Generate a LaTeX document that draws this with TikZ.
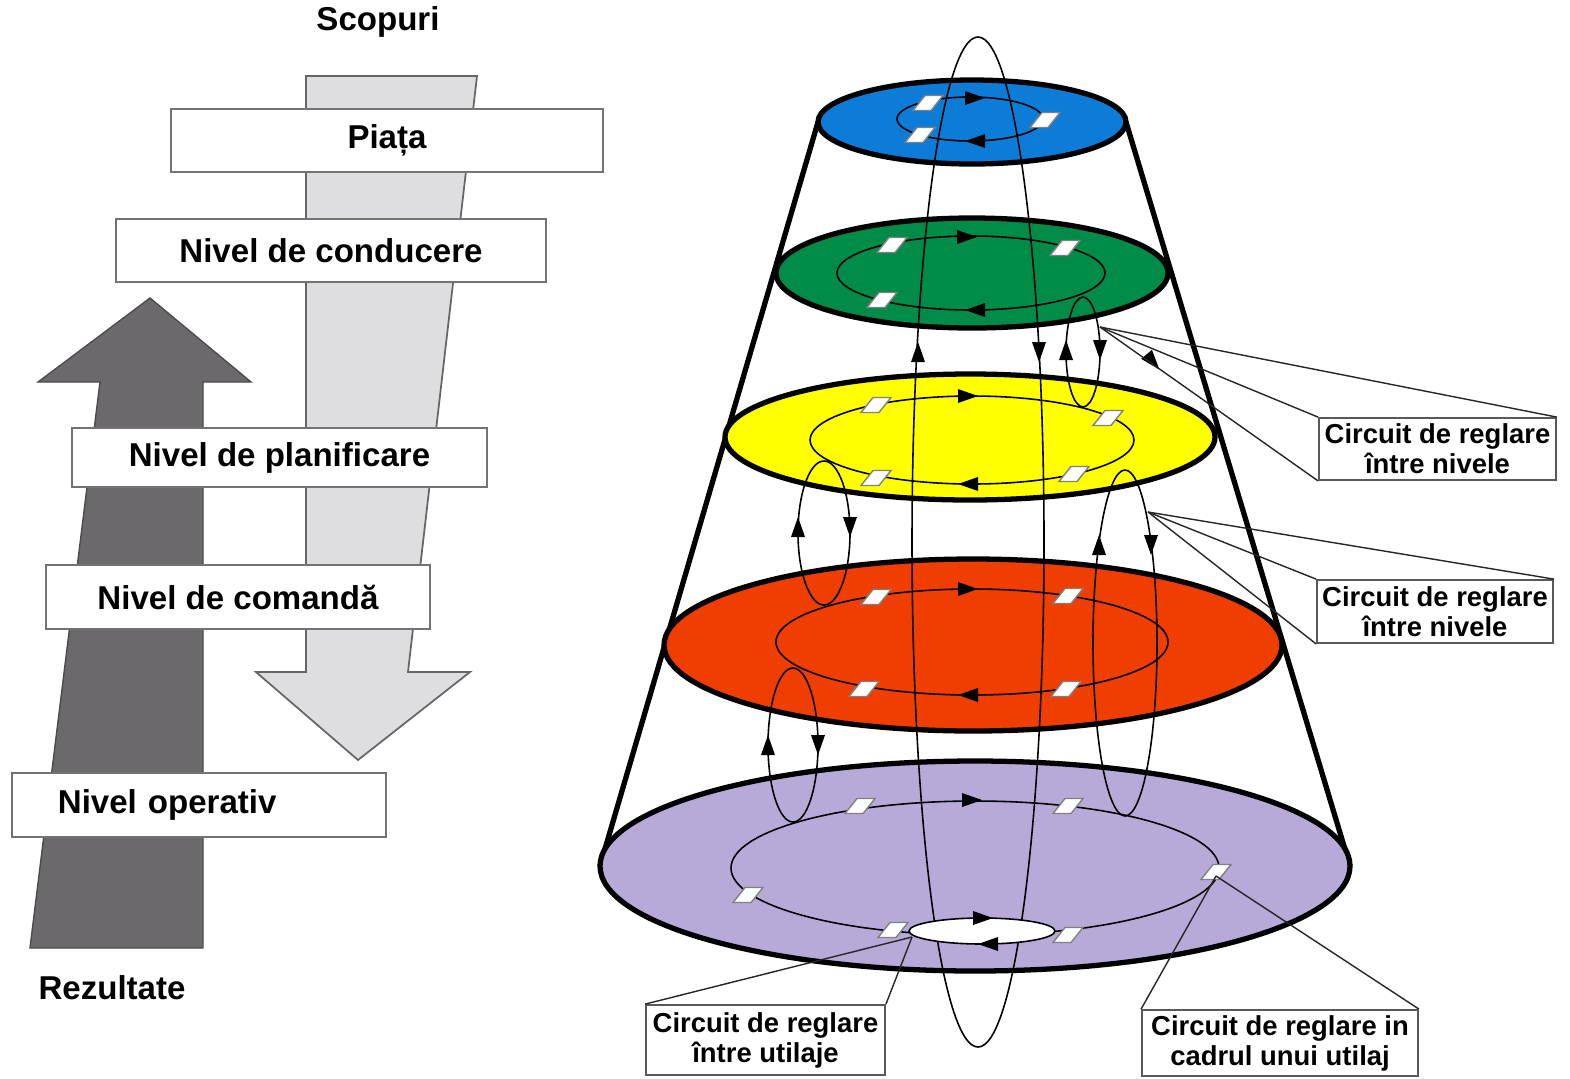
\documentclass[tikz,border=0pt]{standalone}
\usepackage{fontspec}
\setmainfont{Liberation Sans}
\usepackage{tikz}
\definecolor{albastru}{RGB}{12,124,214}
\definecolor{verde}{RGB}{0,140,72}
\definecolor{galben}{RGB}{255,255,0}
\definecolor{rosu}{RGB}{240,62,0}
\definecolor{lila}{RGB}{184,170,216}
\definecolor{gridesch}{RGB}{222,221,224}
\definecolor{griinch}{RGB}{108,105,108}
\tikzset{
    nivel/.style={
           draw=black!55, line width=0.7pt, fill=white,
           font=\fontsize{9.4}{11}\selectfont\bfseries,
           minimum height=0.63cm, inner sep=0pt},
    reglare/.style={
           draw=black!65, line width=0.5pt, fill=white, align=center,
           font=\fontsize{7.8}{8.5}\selectfont\bfseries, inner sep=0pt},
    disc/.style={draw=black, line width=1.5pt},
    bucla/.style={draw=black, line width=0.45pt},
    fir/.style={draw=black!85, line width=0.4pt},
    romb/.style={fill=white, draw=black!50, line width=0.4pt}
}
\newcommand{\romb}[2]{\filldraw[romb] (#1-15,#2+7.5) -- ++(18,0) -- ++(12,-15) -- ++(-18,0) -- cycle;}
\newcommand{\sageata}[3]{\fill[shift={(#1,#2)}, rotate=#3] (10,0) -- (-10,7) -- (-10,-7) -- cycle;}
\begin{document}
\begin{tikzpicture}[x=0.01cm, y=-0.01cm]
        \useasboundingbox (0,0) rectangle (1570,1078);
        \filldraw[fill=gridesch, draw=black!60, line width=0.5pt] (306,76) -- (477,76) -- (408,672) -- (470,672) -- (358,760) -- (256,672) -- (306,672) -- cycle;
        \filldraw[fill=griinch, draw=black!70, line width=0.4pt] (150,298) -- (251,382) -- (203,382) -- (203,948) -- (30,948) -- (100,382) -- (38,382) -- cycle;
        \node[font=\fontsize{9.4}{11}\selectfont\bfseries] (scopuri) at (378,22) {Scopuri};
        \node[font=\fontsize{9.4}{11}\selectfont\bfseries] (rezultate) at (112,988) {Rezultate};
        \node[nivel, minimum width=4.32cm] (piata) at (387,140.5) {Piața};
        \node[nivel, minimum width=4.30cm] (conducere) at (331,250.5) {Nivel de conducere};
        \node[nivel, minimum width=4.15cm, minimum height=0.59cm] (planificare) at (279.5,457.5) {Nivel de planificare};
        \node[nivel, minimum width=3.84cm, minimum height=0.64cm] (comanda) at (238,597) {Nivel de comandă};
        \node[nivel, minimum height=0.64cm, text width=2.82cm, align=left, inner xsep=0.46cm] (operativ) at (199,805) {Nivel operativ};

        \draw[disc] (818,122) -- (600,866);
        \draw[disc] (1126,122) -- (1350,866);
        \filldraw[disc, fill=lila] (975,866) ellipse [x radius=375, y radius=105];
        \filldraw[disc, fill=rosu] (973,645) ellipse [x radius=309, y radius=86];
        \filldraw[disc, fill=galben] (970,437) ellipse [x radius=245, y radius=63];
        \filldraw[disc, fill=verde] (972,273) ellipse [x radius=196, y radius=55];
        \filldraw[disc, fill=albastru] (972,122) ellipse [x radius=154, y radius=42];

        \draw[bucla] (970,119) ellipse [x radius=73, y radius=22];
        \draw[bucla] (971,273) ellipse [x radius=134, y radius=37];
        \draw[bucla] (972,440) ellipse [x radius=162, y radius=44];
        \draw[bucla] (972,642) ellipse [x radius=196, y radius=53];
        \draw[bucla] (975,868) ellipse [x radius=244, y radius=67];

        \draw[bucla] (1083,352) ellipse [x radius=17, y radius=55];
        \draw[bucla] (824,533) ellipse [x radius=26, y radius=72];
        \draw[bucla] (1125,643) ellipse [x radius=32, y radius=173];
        \draw[bucla] (793,745) ellipse [x radius=25, y radius=77];
        \draw[bucla] (978,542) ellipse [x radius=66, y radius=505];
        \filldraw[bucla, fill=white] (982,931) ellipse [x radius=73, y radius=13];

        \foreach \x/\y in {928/103, 1045/120, 920/135, 892/245, 1065/248, 882/300,
                876/405, 1108/418, 876/478, 1074/474, 876/597, 1068/596, 864/689, 1066/689,
                860/806, 1068/806, 1216/872, 748/895, 893/930, 1068/935}
            \romb{\x}{\y};

        \sageata{975}{98}{0} \sageata{975}{141}{180}
        \sageata{967}{237}{0} \sageata{975}{310}{180}
        \sageata{968}{396}{0} \sageata{968}{484}{180}
        \sageata{968}{589}{0} \sageata{968}{695}{180}
        \sageata{972}{800}{0}
        \sageata{983}{918}{0} \sageata{988}{944}{180}
        \sageata{918}{352}{90} \sageata{1039}{352}{-90}
        \sageata{1066}{350}{90} \sageata{1100}{350}{-90}
        \sageata{798}{527}{90} \sageata{850}{527}{-90}
        \sageata{1099}{545}{90} \sageata{1151}{545}{-90}
        \sageata{768}{745}{90} \sageata{818}{745}{-90}
        \sageata{1153}{362}{-50}

        \node[reglare, minimum width=2.37cm, minimum height=0.62cm] (c1) at (1437.5,449) {Circuit de reglare\\între nivele};
        \node[reglare, minimum width=2.36cm, minimum height=0.63cm] (c2) at (1435,611.5) {Circuit de reglare\\între nivele};
        \node[reglare, minimum width=2.39cm, minimum height=0.70cm] (c3) at (765.5,1040) {Circuit de reglare\\între utilaje};
        \node[reglare, minimum width=2.76cm, minimum height=0.66cm] (c4) at (1280,1043) {Circuit de reglare in\\cadrul unui utilaj};
        \coordinate (v1) at (1100,327);
        \coordinate (v2) at (1148,512);
        \coordinate (v3) at (912,937);
        \coordinate (v4) at (1216,876);
        \draw[fir] (v1) -- (c1.north east);
        \draw[fir] (v1) -- (c1.north west);
        \draw[fir] (v1) -- (c1.south west);
        \draw[fir] (v2) -- (c2.north east);
        \draw[fir] (v2) -- (c2.north west);
        \draw[fir] (v2) -- (c2.south west);
        \draw[fir] (v3) -- (c3.north west);
        \draw[fir] (v3) -- (c3.north east);
        \draw[fir] (v4) -- (c4.north west);
        \draw[fir] (v4) -- (c4.north east);
\end{tikzpicture}
\end{document}
